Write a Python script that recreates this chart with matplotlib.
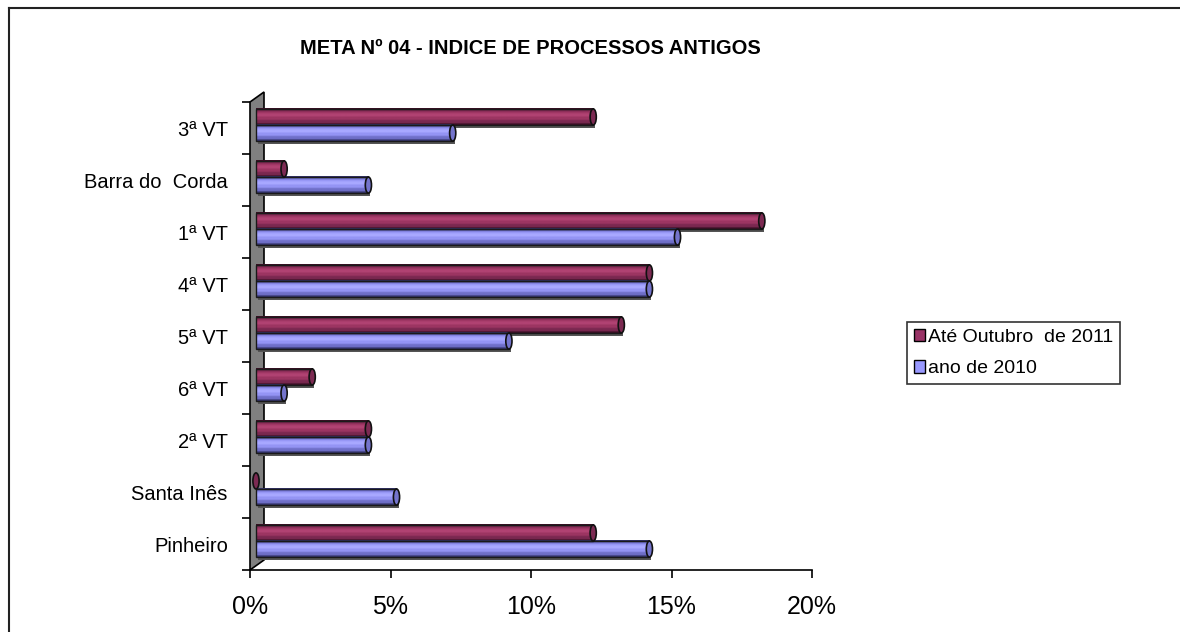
import numpy as np
import matplotlib
matplotlib.use('Agg')
import matplotlib.pyplot as plt
from matplotlib.patches import Ellipse, Polygon, Rectangle, Patch
from matplotlib.lines import Line2D
from matplotlib.colors import to_rgba
import matplotlib.transforms as mtransforms

plt.rcParams['font.family'] = ['Liberation Sans', 'DejaVu Sans']

# categories bottom -> top
categorias = ['Pinheiro', 'Santa Inês', '2ª VT', '6ª VT', '5ª VT', '4ª VT', '1ª VT', 'Barra do  Corda', '3ª VT']
ate_out_2011 = [12, 0, 4, 2, 13, 14, 18, 1, 12]
ano_2010 = [14, 5, 4, 1, 9, 14, 15, 4, 7]
serie_labels = ['Até Outubro  de 2011', 'ano de 2010']
xticks = [0, 5, 10, 15, 20]

fig = plt.figure(figsize=(11.8, 6.32), dpi=100)
ax = fig.add_axes([250 / 1180, 62 / 632, 562 / 1180, 468 / 632])
ax.set_xlim(0, 20)
ax.set_ylim(-0.5, len(categorias) - 0.5)

# depth shift for the 3d look
bar_tr = mtransforms.offset_copy(ax.transData, fig=fig, x=6, y=3, units='dots')
shadow_tr = mtransforms.offset_copy(ax.transData, fig=fig, x=8, y=0, units='dots')

# grey wall on the left
dx = 14 / (562 / 20)
dy = 10 / (468 / len(categorias))
top = len(categorias) - 0.5
wall = Polygon([(0, -0.5), (0, top), (dx, top + dy), (dx, -0.5 + dy)],
               closed=True, facecolor='#808080', edgecolor='black', lw=1.2,
               clip_on=False, zorder=1)
ax.add_patch(wall)


def profile(dark, mid, light, edge):
    cols = [edge, dark, mid, light, light, mid, mid, dark, dark, edge]
    return np.array([to_rgba(c) for c in cols]).reshape(-1, 1, 4)


grad_2011 = profile('#7a2850', '#9c3562', '#b04272', '#3a1025')
grad_2010 = profile('#6f6fc8', '#9494f4', '#a8a8ff', '#34346a')
cap_cols = ['#7c2a52', '#7474cc']

h = 0.31
y = np.arange(len(categorias))
for vals, off, grad, capc in [(ate_out_2011, 0.155, grad_2011, cap_cols[0]),
                              (ano_2010, -0.155, grad_2010, cap_cols[1])]:
    for yi, v in zip(y, vals):
        yc = yi + off
        if v > 0:
            ax.add_patch(Rectangle((0, yc - h / 2), v, h, transform=shadow_tr,
                                   facecolor='#555555', edgecolor='none', zorder=2))
            ax.imshow(grad, extent=(0, v, yc - h / 2, yc + h / 2), aspect='auto',
                      interpolation='bilinear', transform=bar_tr, zorder=3)
            ax.add_patch(Rectangle((0, yc - h / 2), v, h, transform=bar_tr,
                                   facecolor='none', edgecolor='#1a1a1a', lw=1.0, zorder=4))
        ax.add_patch(Ellipse((v, yc), 0.22, h, transform=bar_tr, facecolor=capc,
                             edgecolor='#111111', lw=1.2, zorder=5))

ax.set_xlim(0, 20)
ax.set_ylim(-0.5, len(categorias) - 0.5)

for s in ['top', 'right', 'left']:
    ax.spines[s].set_visible(False)
ax.spines['bottom'].set_linewidth(1.2)

ax.set_xticks(xticks)
ax.set_xticklabels([f'{t}%' for t in xticks], fontsize=18)
ax.tick_params(axis='x', length=6, width=1.2, pad=12, colors='black')

ax.set_yticks(y)
ax.set_yticklabels(categorias, fontsize=14.5)
ax.set_yticks(np.arange(-0.5, len(categorias)), minor=True)
ax.tick_params(axis='y', which='major', length=0, pad=16)
ax.tick_params(axis='y', which='minor', length=6, width=1.2)

fig.text(530 / 1180, 1 - 48 / 632, 'META Nº 04 - INDICE DE PROCESSOS ANTIGOS',
         ha='center', va='center', fontsize=14.5, fontweight='bold')

handles = [Patch(facecolor='#993366', edgecolor='black'),
           Patch(facecolor='#9999ff', edgecolor='black')]
leg = fig.legend(handles, serie_labels, loc='upper left',
                 bbox_to_anchor=(907 / 1180, 1 - 322 / 632), fontsize=14,
                 frameon=True, fancybox=False, edgecolor='black', borderpad=0.35,
                 labelspacing=0.75, handlelength=0.6, handleheight=0.6,
                 handletextpad=0.15, borderaxespad=0)
leg.get_frame().set_linewidth(1.2)

# outer chart border (left and top visible)
fig.add_artist(Line2D([9 / 1180, 9 / 1180], [0, 1 - 8 / 632], color='#222222', lw=1.5))
fig.add_artist(Line2D([9 / 1180, 1], [1 - 8 / 632, 1 - 8 / 632], color='#222222', lw=1.5))

fig.savefig('out.png', dpi=100)
